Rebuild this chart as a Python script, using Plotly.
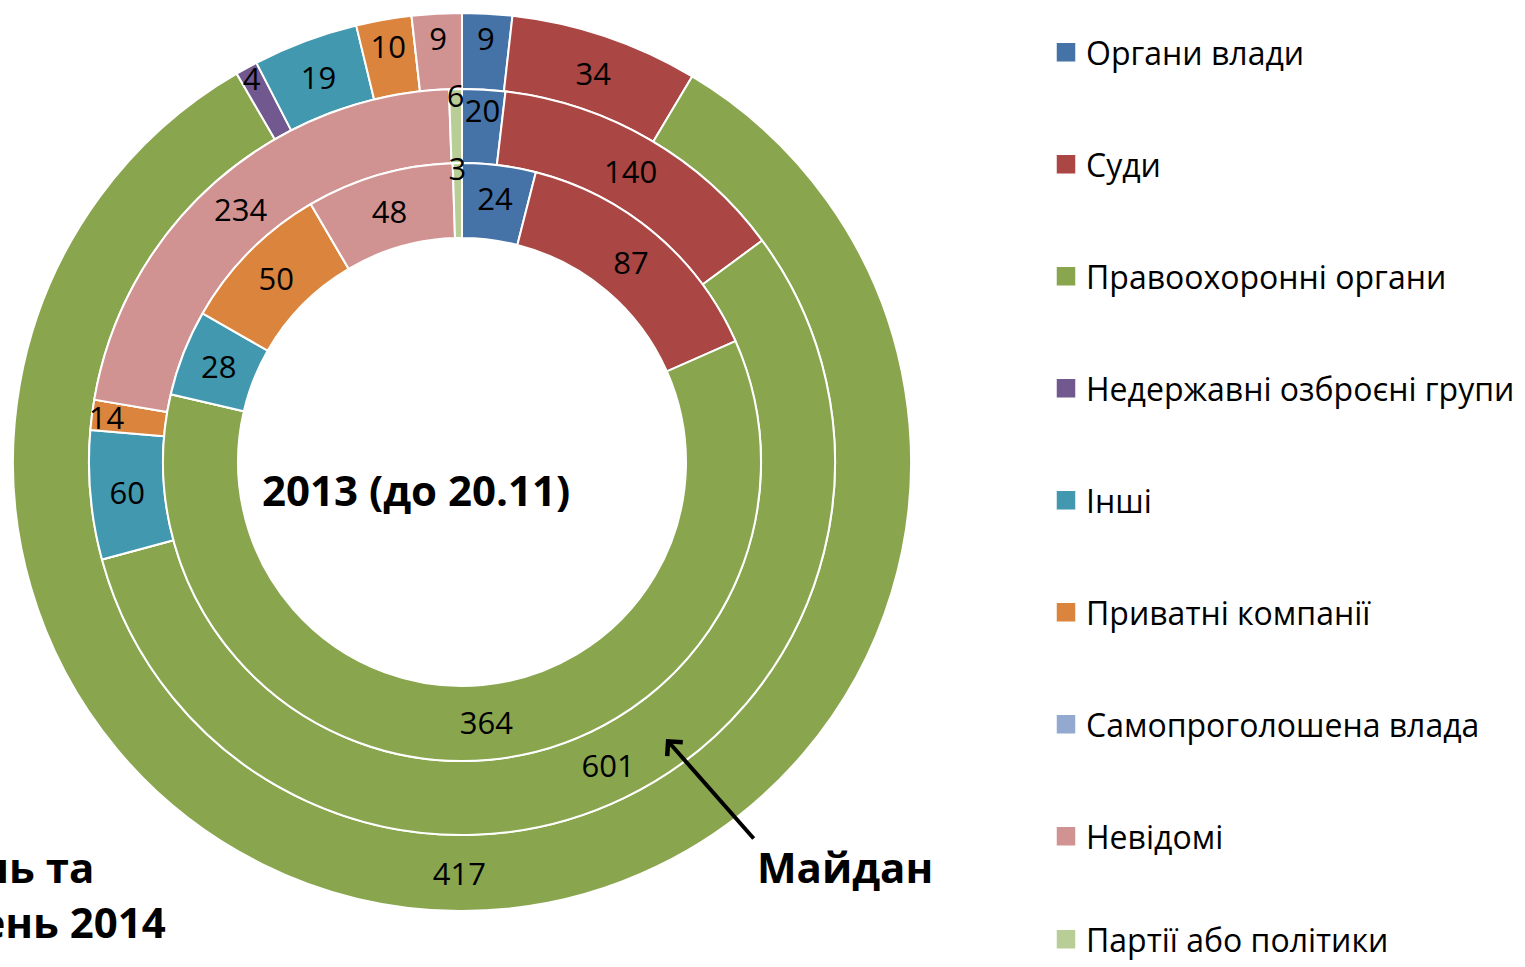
import plotly.graph_objects as go

# ---------------- data ----------------
categories = [
    "Органи влади",
    "Суди",
    "Правоохоронні органи",
    "Недержавні озброєні групи",
    "Інші",
    "Приватні компанії",
    "Самопроголошена влада",
    "Невідомі",
    "Партії або політики",
]
colors = ["#4572A7", "#AA4643", "#89A54E", "#71588F", "#4198AF",
          "#DB843D", "#93A9CF", "#D19392", "#B9CD96"]

values_2013 = [24, 87, 364, 0, 28, 50, 0, 48, 3]        # inner ring
values_maidan = [20, 140, 601, 0, 60, 14, 0, 234, 6]    # middle ring
values_2014 = [9, 34, 417, 4, 19, 10, 0, 9, 0]          # outer ring

label_inner = "2013 (до 20.11)"
label_middle = "Майдан"
label_outer_1 = "Березень та"
label_outer_2 = "квітень 2014"

# ---------------- geometry (px) ----------------
W, H = 1525, 967
CX, CY = 462, 462
R_OUT, R_MID, R_IN, R_HOLE = 449, 373, 299, 224
FONT = "Open Sans"


def dom(r):
    return dict(x=[(CX - r) / W, (CX + r) / W],
                y=[(H - CY - r) / H, (H - CY + r) / H])


def ring(vals, r_outer, r_inner):
    return go.Pie(
        values=vals,
        labels=categories,
        text=[str(v) if v > 0 else "" for v in vals],
        textinfo="text",
        textposition="inside",
        insidetextorientation="horizontal",
        textfont=dict(family=FONT, size=31, color="black"),
        marker=dict(colors=colors, line=dict(color="white", width=2)),
        hole=r_inner / r_outer,
        sort=False,
        direction="clockwise",
        rotation=0,
        domain=dom(r_outer),
        showlegend=False,
        hoverinfo="label+value",
    )


fig = go.Figure()
fig.add_trace(ring(values_2014, R_OUT, R_MID))
fig.add_trace(ring(values_maidan, R_MID, R_IN))
fig.add_trace(ring(values_2013, R_IN, R_HOLE))

# legend entries (one group per category for spacing); last one in a 2nd legend
n_cat = len(categories)
for i, (name, c) in enumerate(zip(categories, colors)):
    fig.add_trace(go.Scatter(
        x=[None], y=[None], mode="markers",
        marker=dict(symbol="square", size=16, color=c,
                    line=dict(color=c, width=2.5)),
        name=name, legendgroup=name, showlegend=True, hoverinfo="skip",
        legend="legend" if i < n_cat - 1 else "legend2",
    ))

bold = dict(family=FONT, size=42, color="black")
common = dict(xref="paper", yref="paper", yanchor="middle", showarrow=False, font=bold)
annotations = [
    dict(text="<b>" + label_inner + "</b>", x=416 / W, y=1 - 489 / H,
         xanchor="center", **common),
    dict(text="<b>" + label_middle + "</b>", x=845 / W, y=1 - 866 / H,
         xanchor="center", **common),
    dict(text="<b>" + label_outer_1 + "</b>", x=96 / W, y=1 - 866 / H,
         xanchor="right", **common),
    dict(text="<b>" + label_outer_2 + "</b>", x=168 / W, y=1 - 921 / H,
         xanchor="right", **common),
    dict(text="", x=666 / W, y=1 - 739 / H, xref="paper", yref="paper",
         ax=89, ay=101, showarrow=True, arrowhead=4, arrowsize=1,
         arrowwidth=4, arrowcolor="black", standoff=0),
]

legend_font = dict(family=FONT, size=32, color="black")
fig.update_layout(
    width=W, height=H,
    margin=dict(l=0, r=0, t=0, b=0, autoexpand=False),
    paper_bgcolor="white", plot_bgcolor="white",
    xaxis=dict(visible=False), yaxis=dict(visible=False),
    showlegend=True,
    legend=dict(x=1046 / W, y=1 - 25 / H, xanchor="left", yanchor="top",
                font=legend_font, tracegroupgap=67.4,
                bgcolor="rgba(0,0,0,0)"),
    legend2=dict(x=1046 / W, y=0, xanchor="left", yanchor="bottom",
                 font=legend_font, bgcolor="rgba(0,0,0,0)"),
    annotations=annotations,
    uniformtext=dict(minsize=31, mode="show"),
)

fig.write_html(
    "out.html",
    config={"displayModeBar": False},
    post_script="document.body.style.margin='0';document.body.style.padding='0';",
)
